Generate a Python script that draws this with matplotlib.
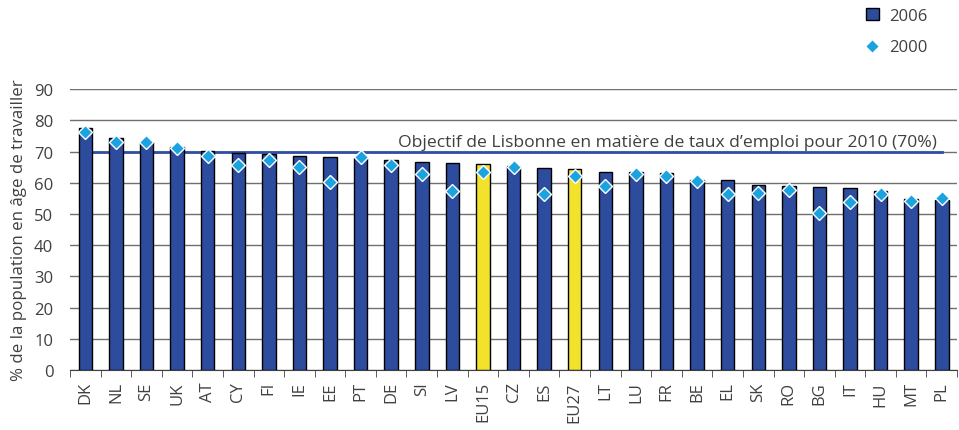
import matplotlib
matplotlib.use("Agg")
import matplotlib.pyplot as plt
import numpy as np

countries = ["DK", "NL", "SE", "UK", "AT", "CY", "FI", "IE", "EE", "PT", "DE", "SI", "LV", "EU15",
             "CZ", "ES", "EU27", "LT", "LU", "FR", "BE", "EL", "SK", "RO", "BG", "IT", "HU", "MT", "PL"]
rate_2006 = [77.4, 74.3, 73.1, 71.5, 70.2, 69.6, 69.3, 68.6, 68.1, 67.9, 67.2, 66.6, 66.3, 66.0,
             65.3, 64.8, 64.4, 63.6, 63.6, 63.0, 61.0, 61.0, 59.4, 58.8, 58.6, 58.4, 57.3, 54.8, 54.5]
rate_2000 = [76.3, 72.9, 73.0, 71.2, 68.5, 65.7, 67.2, 65.2, 60.4, 68.4, 65.6, 62.8, 57.5, 63.4,
             65.0, 56.3, 62.2, 59.1, 62.7, 62.1, 60.5, 56.5, 56.8, 57.6, 50.4, 53.7, 56.3, 54.2, 55.0]
target = 70
target_label = "Objectif de Lisbonne en matière de taux d\u2019emploi pour 2010 (70%)"
highlight = ["EU15", "EU27"]
ylabel = "% de la population en âge de travailler"

plt.rcParams['font.family'] = ['Open Sans', 'DejaVu Sans']

fig = plt.figure(figsize=(9.59, 4.31), dpi=100)
ax = fig.add_axes([0.073, 0.139, 0.925, 0.652])

x = np.arange(len(countries))
blue = "#2d4c9e"
yellow = "#f2e22c"
colors = [yellow if c in highlight else blue for c in countries]

ax.set_ylim(0, 90)
ax.set_xlim(-0.5, len(countries) - 0.5)
ax.set_yticks(np.arange(0, 91, 10))
ax.yaxis.grid(True, color="#707070", linewidth=1.0)
ax.set_axisbelow(True)

ax.plot([x[0], x[-1]], [target, target], color="#2f4fa0", linewidth=2, zorder=2)
ax.bar(x, rate_2006, width=0.44, color=colors, edgecolor="black", linewidth=1.0, zorder=3, label="2006")
ax.plot(x, rate_2000, linestyle="none", marker="D", markersize=7, markerfacecolor="#1ba3e0",
        markeredgecolor="white", markeredgewidth=1.0, zorder=4, label="2000")

ax.text(x[-1] - 0.15, target + 0.6, target_label, ha="right", va="bottom", fontsize=12.6,
        color="#404040", zorder=5)

for s in ["top", "right", "left"]:
    ax.spines[s].set_visible(False)
ax.spines["bottom"].set_color("#404040")

ax.set_xticks(x)
ax.set_xticklabels(countries, rotation=90, fontsize=12, color="#404040")
ax.set_xticks(np.arange(-0.5, len(countries), 1.0), minor=True)
ax.tick_params(axis="x", which="major", length=0, pad=8)
ax.tick_params(axis="x", which="minor", length=5, color="#404040")
ax.tick_params(axis="y", length=0, labelsize=12, labelcolor="#404040", pad=12)
ax.set_ylabel(ylabel, fontsize=12.2, color="#404040", labelpad=5)

handles, labels = ax.get_legend_handles_labels()
order = [labels.index("2006"), labels.index("2000")]
leg = fig.legend([handles[i] for i in order], [labels[i] for i in order],
                 loc="upper left", bbox_to_anchor=(0.887, 1.015), frameon=False,
                 fontsize=12, labelspacing=0.95, handlelength=0.8, handletextpad=0.6)
for t in leg.get_texts():
    t.set_color("#404040")

fig.savefig("out.png", dpi=100)
